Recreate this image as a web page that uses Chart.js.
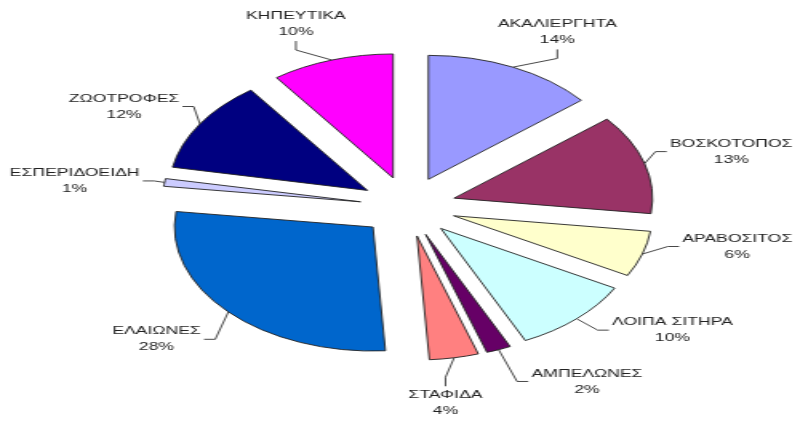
<!DOCTYPE html>
<html><head><meta charset="utf-8">
<script src="https://cdn.jsdelivr.net/npm/chart.js@4/dist/chart.umd.min.js"></script>
<style>
html,body{margin:0;padding:0;background:#fff;overflow:hidden}
#c{display:block;width:800px !important;height:421px !important}
</style>
</head><body>
<canvas id="c" width="500" height="421" style="width:800px;height:421px"></canvas>
<script>
// ---- data ----
const categories = ['ΑΚΑΛΙΕΡΓΗΤΑ','ΒΟΣΚΟΤΟΠΟΣ','ΑΡΑΒΟΣΙΤΟΣ','ΛΟΙΠΑ ΣΙΤΗΡΑ','ΑΜΠΕΛΩΝΕΣ','ΣΤΑΦΙΔΑ','ΕΛΑΙΩΝΕΣ','ΕΣΠΕΡΙΔΟΕΙΔΗ','ΖΩΟΤΡΟΦΕΣ','ΚΗΠΕΥΤΙΚΑ'];
const shares = [14, 13, 6, 10, 2, 4, 28, 1, 12, 10];
const sliceColors = ['#9999FF','#993366','#FFFFCC','#CCFFFF','#660066','#FF8080','#0066CC','#CCCCFF','#000080','#FF00FF'];
// label placement nudges (relative to slice mid-angle / default label distance)
const labelAngleShift = [3, 1, -7, -10, -11, 4, 3, -2, -3, -3];
const labelRadiusShift = [-3, 0, 0, 0, 6, 4, 0, 0, -4, -3];

const EXPLODE = 30;
const total = shares.reduce((a, b) => a + b, 0);

const explodePlugin = {
  id: 'explode',
  afterDatasetUpdate(chart, args) {
    args.meta.data.forEach(arc => {
      const mid = (arc.startAngle + arc.endAngle) / 2;
      arc.x += Math.cos(mid) * EXPLODE;
      arc.y += Math.sin(mid) * EXPLODE;
    });
  }
};

const labelPlugin = {
  id: 'pieLabels',
  afterDatasetsDraw(chart) {
    const ctx = chart.ctx;
    const meta = chart.getDatasetMeta(0);
    ctx.save();
    ctx.font = '11px "Liberation Sans", Arial, sans-serif';
    ctx.fillStyle = '#222';
    ctx.strokeStyle = '#333';
    ctx.lineWidth = 0.9;
    ctx.textAlign = 'center';
    ctx.textBaseline = 'middle';
    meta.data.forEach((arc, i) => {
      const mid = (arc.startAngle + arc.endAngle) / 2;
      const cx = arc.x - Math.cos(mid) * EXPLODE;
      const cy = arc.y - Math.sin(mid) * EXPLODE;
      const la = mid + labelAngleShift[i] * Math.PI / 180;
      const d = 192 + 18 * Math.abs(Math.cos(la)) + labelRadiusShift[i];
      const lx = cx + d * Math.cos(la), ly = cy + d * Math.sin(la);
      const R = arc.outerRadius;
      const sx = arc.x + R * Math.cos(mid), sy = arc.y + R * Math.sin(mid);
      const l1 = categories[i];
      const l2 = Math.round(shares[i] / total * 100) + '%';
      const w = Math.max(ctx.measureText(l1).width, ctx.measureText(l2).width);
      let ex, ey, kx, ky;
      if (Math.abs(Math.sin(la)) > 0.86) {
        const sgn = Math.sin(la) < 0 ? 1 : -1;
        ex = lx; ey = ly + sgn * 17; kx = lx; ky = ly + sgn * 26;
      } else {
        const sgn = Math.cos(la) > 0 ? -1 : 1;
        ex = lx + sgn * (w / 2 + 2); ey = ly; kx = ex + sgn * 7; ky = ly;
      }
      ctx.beginPath();
      ctx.moveTo(sx, sy); ctx.lineTo(kx, ky); ctx.lineTo(ex, ey);
      ctx.stroke();
      ctx.fillText(l1, lx, ly - 8);
      ctx.fillText(l2, lx, ly + 8);
    });
    ctx.restore();
  }
};

const chart = new Chart(document.getElementById('c'), {
  type: 'pie',
  data: {
    labels: categories,
    datasets: [{
      data: shares,
      backgroundColor: sliceColors,
      borderColor: '#222',
      borderWidth: 0.9,
      radius: 124
    }]
  },
  options: {
    responsive: false,
    animation: false,
    events: [],
    layout: { padding: { left: 10, right: 0, top: 0, bottom: 8 } },
    plugins: { legend: { display: false }, tooltip: { enabled: false } }
  },
  plugins: [explodePlugin, labelPlugin]
});
const cv = document.getElementById('c');
cv.style.width = '800px'; cv.style.height = '421px';
</script>
</body></html>
